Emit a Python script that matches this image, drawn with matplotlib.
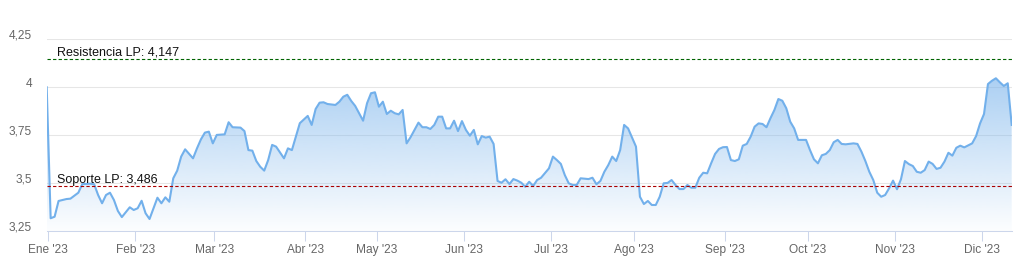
import numpy as np
import pandas as pd
import matplotlib
matplotlib.use("Agg")
import matplotlib.pyplot as plt
from matplotlib.transforms import ScaledTranslation
from matplotlib.path import Path
from matplotlib.patches import PathPatch

# ---------------- data ----------------
dates = [
    "2022-12-30", "2023-01-02", "2023-01-03", "2023-01-04", "2023-01-05", "2023-01-06",
    "2023-01-09", "2023-01-11", "2023-01-12", "2023-01-16", "2023-01-17", "2023-01-18",
    "2023-01-19", "2023-01-20", "2023-01-23", "2023-01-24", "2023-01-25", "2023-01-26",
    "2023-01-30", "2023-01-31", "2023-02-01", "2023-02-02", "2023-02-03", "2023-02-06",
    "2023-02-08", "2023-02-09", "2023-02-10", "2023-02-13", "2023-02-14", "2023-02-15",
    "2023-02-16", "2023-02-17", "2023-02-21", "2023-02-22", "2023-02-23", "2023-02-24",
    "2023-02-27", "2023-02-28", "2023-03-01", "2023-03-03", "2023-03-06", "2023-03-07",
    "2023-03-09", "2023-03-10", "2023-03-13", "2023-03-14", "2023-03-15", "2023-03-16",
    "2023-03-17", "2023-03-20", "2023-03-21", "2023-03-22", "2023-03-24", "2023-03-27",
    "2023-03-28", "2023-03-29", "2023-03-30", "2023-04-03", "2023-04-04", "2023-04-05",
    "2023-04-06", "2023-04-11", "2023-04-12", "2023-04-14", "2023-04-17", "2023-04-18",
    "2023-04-19", "2023-04-20", "2023-04-21", "2023-04-25", "2023-04-26", "2023-04-27",
    "2023-04-28", "2023-05-02", "2023-05-03", "2023-05-04", "2023-05-05", "2023-05-08",
    "2023-05-09", "2023-05-10", "2023-05-11", "2023-05-12", "2023-05-16", "2023-05-17",
    "2023-05-18", "2023-05-19", "2023-05-22", "2023-05-23", "2023-05-24", "2023-05-25",
    "2023-05-26", "2023-05-29", "2023-05-30", "2023-05-31", "2023-06-01", "2023-06-02",
    "2023-06-05", "2023-06-06", "2023-06-07", "2023-06-08", "2023-06-09", "2023-06-12",
    "2023-06-13", "2023-06-14", "2023-06-15", "2023-06-16", "2023-06-19", "2023-06-20",
    "2023-06-21", "2023-06-22", "2023-06-23", "2023-06-26", "2023-06-27", "2023-06-28",
    "2023-06-30", "2023-07-03", "2023-07-04", "2023-07-05", "2023-07-06", "2023-07-07",
    "2023-07-10", "2023-07-11", "2023-07-12", "2023-07-14", "2023-07-17", "2023-07-18",
    "2023-07-19", "2023-07-20", "2023-07-21", "2023-07-24", "2023-07-25", "2023-07-26",
    "2023-07-27", "2023-07-28", "2023-07-31", "2023-08-01", "2023-08-02", "2023-08-03",
    "2023-08-04", "2023-08-07", "2023-08-08", "2023-08-09", "2023-08-10", "2023-08-11",
    "2023-08-14", "2023-08-15", "2023-08-16", "2023-08-17", "2023-08-18", "2023-08-21",
    "2023-08-22", "2023-08-23", "2023-08-24", "2023-08-25", "2023-08-28", "2023-08-29",
    "2023-08-30", "2023-08-31", "2023-09-01", "2023-09-04", "2023-09-05", "2023-09-06",
    "2023-09-07", "2023-09-08", "2023-09-11", "2023-09-12", "2023-09-13", "2023-09-14",
    "2023-09-15", "2023-09-18", "2023-09-19", "2023-09-20", "2023-09-21", "2023-09-22",
    "2023-09-25", "2023-09-26", "2023-09-27", "2023-09-28", "2023-09-29", "2023-10-02",
    "2023-10-03", "2023-10-04", "2023-10-05", "2023-10-06", "2023-10-09", "2023-10-10",
    "2023-10-11", "2023-10-12", "2023-10-13", "2023-10-17", "2023-10-18", "2023-10-19",
    "2023-10-20", "2023-10-23", "2023-10-24", "2023-10-25", "2023-10-26", "2023-10-27",
    "2023-10-30", "2023-10-31", "2023-11-01", "2023-11-02", "2023-11-03", "2023-11-06",
    "2023-11-07", "2023-11-08", "2023-11-09", "2023-11-10", "2023-11-13", "2023-11-14",
    "2023-11-15", "2023-11-16", "2023-11-17", "2023-11-20", "2023-11-21", "2023-11-22",
    "2023-11-23", "2023-11-24", "2023-11-28", "2023-11-29", "2023-11-30", "2023-12-01",
    "2023-12-04", "2023-12-05", "2023-12-06", "2023-12-07", "2023-12-08", "2023-12-11",
    "2023-12-12",
]
values = [
    4.000, 3.318, 3.326, 3.408, 3.413, 3.418,
    3.420, 3.451, 3.496, 3.498, 3.495, 3.439,
    3.396, 3.439, 3.451, 3.413, 3.356, 3.324,
    3.375, 3.361, 3.370, 3.409, 3.344, 3.314,
    3.425, 3.396, 3.427, 3.404, 3.526, 3.566,
    3.639, 3.677, 3.630, 3.682, 3.729, 3.764,
    3.769, 3.708, 3.752, 3.755, 3.818, 3.792,
    3.790, 3.772, 3.673, 3.670, 3.616, 3.586,
    3.566, 3.621, 3.700, 3.691, 3.630, 3.682,
    3.673, 3.743, 3.813, 3.851, 3.804, 3.887,
    3.920, 3.922, 3.913, 3.908, 3.925, 3.951,
    3.961, 3.929, 3.903, 3.826, 3.917, 3.969,
    3.974, 3.899, 3.925, 3.861, 3.878, 3.865,
    3.859, 3.882, 3.708, 3.740, 3.816, 3.792,
    3.792, 3.783, 3.804, 3.847, 3.847, 3.786,
    3.786, 3.826, 3.772, 3.824, 3.778, 3.748,
    3.778, 3.703, 3.746, 3.738, 3.743, 3.705,
    3.512, 3.503, 3.521, 3.496, 3.522, 3.514,
    3.503, 3.482, 3.508, 3.486, 3.517, 3.529,
    3.578, 3.639, 3.621, 3.601, 3.543, 3.500,
    3.491, 3.491, 3.526, 3.522, 3.529, 3.495,
    3.512, 3.560, 3.595, 3.639, 3.616, 3.673,
    3.804, 3.786, 3.738, 3.691, 3.430, 3.392,
    3.408, 3.387, 3.387, 3.430, 3.500, 3.502,
    3.517, 3.491, 3.470, 3.470, 3.491, 3.477,
    3.477, 3.529, 3.555, 3.552, 3.604, 3.653,
    3.679, 3.688, 3.689, 3.621, 3.616, 3.625,
    3.696, 3.705, 3.743, 3.795, 3.812, 3.809,
    3.792, 3.839, 3.882, 3.939, 3.930, 3.891,
    3.821, 3.786, 3.726, 3.726, 3.726, 3.673,
    3.625, 3.604, 3.646, 3.653, 3.673, 3.714,
    3.726, 3.705, 3.703, 3.708, 3.705, 3.665,
    3.616, 3.560, 3.517, 3.451, 3.430, 3.439,
    3.474, 3.514, 3.469, 3.521, 3.616, 3.600,
    3.590, 3.560, 3.555, 3.569, 3.613, 3.601,
    3.575, 3.581, 3.613, 3.659, 3.644, 3.685,
    3.696, 3.687, 3.708, 3.746, 3.812, 3.861,
    4.017, 4.034, 4.047, 4.026, 4.007, 4.021,
    3.804,
]
market_holidays = ["2023-04-07", "2023-04-10", "2023-05-01"]
month_labels = ["Ene '23", "Feb '23", "Mar '23", "Abr '23", "May '23", "Jun '23",
                "Jul '23", "Ago '23", "Sep '23", "Oct '23", "Nov '23", "Dic '23"]
y_ticks = [3.25, 3.5, 3.75, 4.0, 4.25]
y_tick_labels = ["3,25", "3,5", "3,75", "4", "4,25"]
resistance = 4.147
support = 3.486
resistance_label = "Resistencia LP: 4,147"
support_label = "Soporte LP: 3,486"

# ---------------- ordinal (trading-day) axis ----------------
cal = pd.bdate_range(dates[0], dates[-1])
cal = cal[~cal.isin(pd.to_datetime(market_holidays))]
x = cal.get_indexer(pd.to_datetime(dates)).astype(float)
y = np.array(values)

TIME_SHIFT = 0.6  # points are stamped during the day; month ticks at midnight
idx = pd.Series(np.arange(len(cal)), index=cal)
idx23 = idx[idx.index.year == 2023]
firsts = idx23.groupby(idx23.index.month).min()
tick_pos = firsts.values - TIME_SHIFT

plt.rcParams["font.family"] = ["Liberation Sans", "DejaVu Sans"]

W, H = 1022, 265
fig = plt.figure(figsize=(W / 100, H / 100), dpi=100)
ax = fig.add_axes([46.7 / W, (H - 231.3) / H, 965 / W, 192 / H])

line_color = "#72b0eb"
base_rgb = np.array([124, 181, 236]) / 255.0

# gradient area fill
ymin = y_ticks[0]
poly = np.column_stack([np.r_[x[0], x, x[-1]], np.r_[ymin, y, ymin]])
patch = PathPatch(Path(poly), facecolor="none", edgecolor="none")
ax.add_patch(patch)
g = np.linspace(1, 0, 256)
rgba = np.zeros((256, 1, 4))
rgba[..., :3] = base_rgb
rgba[:, 0, 3] = 0.02 + (0.64 - 0.02) * g
im = ax.imshow(rgba, extent=[x[0], x[-1], ymin, y.max()], aspect="auto",
               origin="upper", zorder=1, interpolation="bilinear")
im.set_clip_path(patch)

ax.plot(x, y, color=line_color, lw=1.5, zorder=3, solid_joinstyle="round")

# support / resistance
ax.axhline(resistance, color="#006400", lw=0.8, ls=(0, (3, 2)), zorder=4)
ax.axhline(support, color="#aa0000", lw=0.8, ls=(0, (3, 2)), zorder=4)
for val, txt in [(resistance, resistance_label), (support, support_label)]:
    ax.annotate(txt, xy=(0, val), xycoords=("axes fraction", "data"),
                xytext=(7.5, 2.5), textcoords="offset points",
                ha="left", va="baseline", fontsize=9, color="#111111", zorder=5)

ax.set_xlim(x[0], x[-1])
ax.set_ylim(y_ticks[0], y_ticks[-1])

ax.set_yticks(y_ticks, y_tick_labels)
ax.tick_params(axis="y", length=0, pad=10.5, labelsize=8.6, labelcolor="#666666")
for lbl in ax.get_yticklabels():
    lbl.set_transform(lbl.get_transform() + ScaledTranslation(0, 0.05, fig.dpi_scale_trans))
ax.yaxis.grid(True, color="#e6e6e6", lw=0.75)
ax.set_axisbelow(True)

ax.set_xticks(tick_pos, month_labels)
ax.tick_params(axis="x", length=7, width=0.75, color="#ccd6eb", pad=2,
               labelsize=8.6, labelcolor="#666666")

for s in ["left", "right", "top"]:
    ax.spines[s].set_visible(False)
ax.spines["bottom"].set_color("#ccd6eb")
ax.spines["bottom"].set_linewidth(0.75)
ax.spines["bottom"].set_zorder(6)

fig.savefig("out.png", dpi=100)
